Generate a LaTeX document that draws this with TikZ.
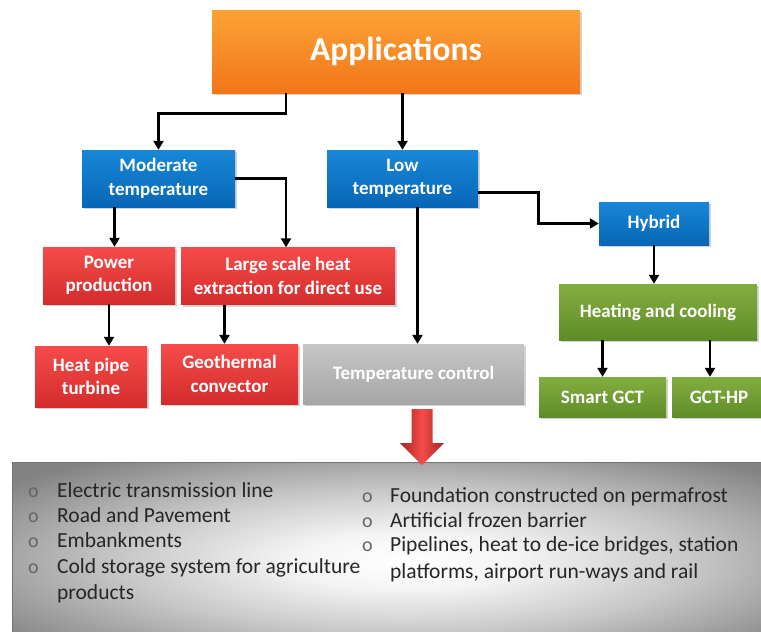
\documentclass[tikz,border=0pt]{standalone}
\usepackage{fontspec}
\setmainfont{Carlito}
\usetikzlibrary{shadows,arrows.meta,calc}
\definecolor{orT}{RGB}{251,162,52}
\definecolor{orB}{RGB}{243,118,26}
\definecolor{blT}{RGB}{24,135,215}
\definecolor{blB}{RGB}{8,102,182}
\definecolor{rdT}{RGB}{245,75,75}
\definecolor{rdB}{RGB}{212,44,44}
\definecolor{grT}{RGB}{130,174,64}
\definecolor{grB}{RGB}{96,140,40}
\definecolor{gyT}{RGB}{198,198,198}
\definecolor{gyB}{RGB}{166,166,166}
\definecolor{bxEdge}{RGB}{115,115,115}
\definecolor{bxOut}{RGB}{130,130,130}
\definecolor{bxMid}{RGB}{200,200,200}
\pgfdeclareradialshading{bxshade}{\pgfpoint{0bp}{0bp}}{color(0bp)=(white); color(7bp)=(white!96!black); color(18bp)=(bxMid); color(32bp)=(bxOut); color(50bp)=(bxOut)}
\tikzset{
  boxbase/.style={rectangle, inner sep=2pt, align=center, text=white,
    font=\fontsize{19}{23.5}\selectfont\bfseries,
    drop shadow={opacity=0.35, shadow xshift=1.5pt, shadow yshift=-2pt}},
  orbox/.style={boxbase, top color=orT, bottom color=orB},
  blbox/.style={boxbase, top color=blT, bottom color=blB},
  rdbox/.style={boxbase, top color=rdT, bottom color=rdB},
  grbox/.style={boxbase, top color=grT, bottom color=grB},
  gybox/.style={boxbase, top color=gyT, bottom color=gyB},
  arr/.style={line width=2.6pt, -{Triangle[length=9pt,width=10pt]}},
  listtxt/.style={anchor=base west, inner sep=0pt, text=black!85,
    font=\fontsize{21.5}{25.5}\selectfont},
  bul/.style={anchor=base west, inner sep=0pt, text=black!60,
    font=\fontsize{20}{25.5}\selectfont}
}
\begin{document}
\begin{tikzpicture}[x=1pt,y=-1pt]
\useasboundingbox (0,0) rectangle (761,632);
% bottom box
\shade[shading=bxshade, draw=bxEdge, line width=0.8pt]
  (12,462) rectangle (800,660);
% top-level boxes
\node[orbox, minimum width=368pt, minimum height=83pt,
  font=\fontsize{33.5}{36}\selectfont\bfseries] (app) at (396,51.5) {Applications};
\node[blbox, minimum width=153pt, minimum height=57pt] (mod) at (158.5,178.5) {Moderate\\temperature};
\node[blbox, minimum width=151pt, minimum height=57pt] (low) at (402.5,178.5) {Low\\temperature};
\node[blbox, minimum width=110pt, minimum height=43pt] (hyb) at (654,223.5) {Hybrid};
\node[rdbox, minimum width=132pt, minimum height=57pt] (pow) at (109,275.5) {Power\\production};
\node[rdbox, minimum width=214pt, minimum height=57pt] (lar) at (288,276) {Large scale heat\\extraction for direct use};
\node[rdbox, minimum width=112pt, minimum height=61pt] (hpt) at (91,376.5) {Heat pipe\\turbine};
\node[rdbox, minimum width=137pt, minimum height=60pt] (geo) at (229.5,374) {Geothermal\\convector};
\node[gybox, minimum width=221pt, minimum height=60pt] (tc) at (413.5,374) {Temperature control};
\node[grbox, minimum width=198pt, minimum height=56pt] (hc) at (658,312) {Heating and cooling};
\node[grbox, minimum width=127pt, minimum height=40pt] (sm) at (602.5,397) {Smart GCT};
\node[grbox, minimum width=94pt, minimum height=40pt] (gh) at (719,397) {GCT-HP};
% connectors
\draw[arr] ([xshift=-110pt]app.south) -- ++(0,20) -| (mod.north);
\draw[arr] (app.south -| low.north) -- (low.north);
\draw[arr] (mod.east) -| ([xshift=-2pt]lar.north);
\draw[arr] ([xshift=-44pt]mod.south) -- ([xshift=-44pt]mod.south |- pow.north);
\draw[arr] ([xshift=15pt]low.south) -- ([xshift=15pt]low.south |- tc.north);
\draw[arr] ([yshift=-14pt]low.east) -- ++(60,0) |- (hyb.west);
\draw[arr] (hyb.south) -- (hyb.south |- hc.north);
\draw[arr] (pow.south) -- (pow.south |- hpt.north);
\draw[arr] ([xshift=-5pt]geo.north |- lar.south) -- ([xshift=-5pt]geo.north);
\draw[arr] (sm.north |- hc.south) -- (sm.north);
\draw[arr] ([xshift=-9pt]gh.north |- hc.south) -- ([xshift=-9pt]gh.north);
% red block arrow
\coordinate (ra) at ([xshift=8.5pt]tc.south);
\shade[left color=rdB!80!black, right color=rdB!80!black, middle color=rdT]
  ($(ra)+(-10.5,5)$) -- ($(ra)+(10.5,5)$) -- ($(ra)+(10.5,39)$) -- ($(ra)+(22,39)$)
  -- ($(ra)+(0,61)$) -- ($(ra)+(-22,39)$) -- ($(ra)+(-10.5,39)$) -- cycle;
% left list
\node[bul] (l1o) at (28,497) {o};
\node[listtxt] (l1) at (57,497) {Electric transmission line};
\node[bul] (l2o) at (28,522) {o};
\node[listtxt] (l2) at (57,522) {Road and Pavement};
\node[bul] (l3o) at (28,547) {o};
\node[listtxt] (l3) at (57,547) {Embankments};
\node[bul] (l4o) at (28,573) {o};
\node[listtxt] (l4) at (57,573) {Cold storage system for agriculture};
\node[listtxt] (l5) at (57,599) {products};
% right list
\node[bul] (r1o) at (362,502) {o};
\node[listtxt] (r1) at (390,502) {Foundation constructed on permafrost};
\node[bul] (r2o) at (362,527) {o};
\node[listtxt] (r2) at (390,527) {Artificial frozen barrier};
\node[bul] (r3o) at (362,551) {o};
\node[listtxt] (r3) at (390,551) {Pipelines, heat to de-ice bridges, station};
\node[listtxt] (r4) at (390,578) {platforms, airport run-ways and rail};
\end{tikzpicture}
\end{document}
